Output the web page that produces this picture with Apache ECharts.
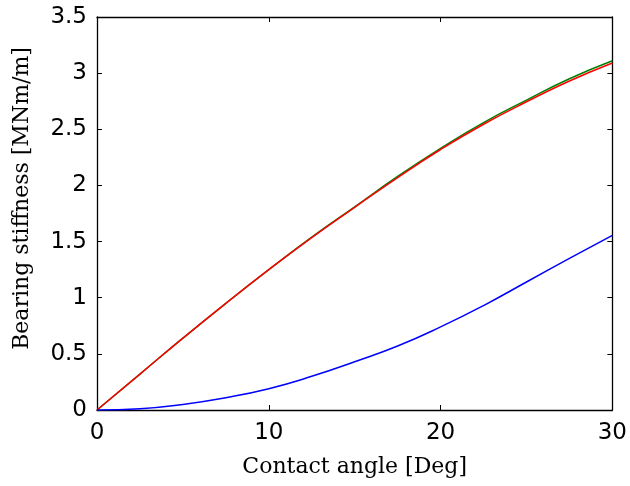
<!DOCTYPE html>
<html>
<head>
<meta charset="utf-8">
<script src="https://cdn.jsdelivr.net/npm/echarts@6/dist/echarts.min.js"></script>
<style>html,body{margin:0;padding:0;background:#fff}#c{width:630px;height:486px}</style>
</head>
<body>
<div id="c"></div>
<script>
const angles = [0, 2.5, 5, 7.5, 10, 12.5, 15, 17.5, 20, 22.5, 25, 27.5, 30];
const greenVals = [0, 0.32, 0.64, 0.95, 1.25, 1.54, 1.81, 2.08, 2.33, 2.56, 2.76, 2.95, 3.11];
const redVals   = [0, 0.32, 0.64, 0.95, 1.25, 1.535, 1.805, 2.07, 2.32, 2.545, 2.745, 2.93, 3.09];
const blueVals  = [0, 0.012, 0.05, 0.11, 0.19, 0.30, 0.43, 0.57, 0.74, 0.93, 1.14, 1.35, 1.555];
const xLabel = 'Contact angle [Deg]';
const yLabel = 'Bearing stiffness [MNm/m]';

const pairs = v => angles.map((a, i) => [a, v[i]]);
const tickFont = {fontFamily: 'DejaVu Sans', fontSize: 23, color: '#000'};
const nameFont = {fontFamily: 'DejaVu Serif', fontSize: 22, color: '#000'};
const axLine = {show: true, onZero: false, lineStyle: {color: '#000', width: 1.3}};
const tick = {show: true, inside: true, length: 5, lineStyle: {color: '#000', width: 1}};

const chart = echarts.init(document.getElementById('c'));
chart.setOption({
  animation: false,
  backgroundColor: '#fff',
  grid: {left: 97, right: 17, top: 17, bottom: 76, containLabel: false},
  xAxis: [
    {type: 'value', min: 0, max: 30, interval: 10, position: 'bottom',
     axisLine: axLine, axisTick: tick, splitLine: {show: false},
     axisLabel: Object.assign({margin: 12}, tickFont),
     name: xLabel, nameLocation: 'middle', nameGap: 46, nameTextStyle: nameFont},
    {type: 'value', min: 0, max: 30, interval: 10, position: 'top',
     axisLine: axLine, axisTick: tick, splitLine: {show: false}, axisLabel: {show: false}}
  ],
  yAxis: [
    {type: 'value', min: 0, max: 3.5, interval: 0.5, position: 'left',
     axisLine: axLine, axisTick: tick, splitLine: {show: false},
     axisLabel: Object.assign({margin: 10}, tickFont),
     name: yLabel, nameLocation: 'middle', nameGap: 64,
     nameTextStyle: Object.assign({padding: [0, 0, 0, 30]}, nameFont)},
    {type: 'value', min: 0, max: 3.5, interval: 0.5, position: 'right',
     axisLine: axLine, axisTick: tick, splitLine: {show: false}, axisLabel: {show: false}}
  ],
  series: [
    {type: 'line', data: pairs(greenVals), smooth: true, symbol: 'none',
     lineStyle: {color: '#008000', width: 1.5}, z: 2},
    {type: 'line', data: pairs(redVals), smooth: true, symbol: 'none',
     lineStyle: {color: '#ff0000', width: 1.5}, z: 3},
    {type: 'line', data: pairs(blueVals), smooth: true, symbol: 'none',
     lineStyle: {color: '#0000ff', width: 1.5}, z: 3}
  ]
});
</script>
</body>
</html>
